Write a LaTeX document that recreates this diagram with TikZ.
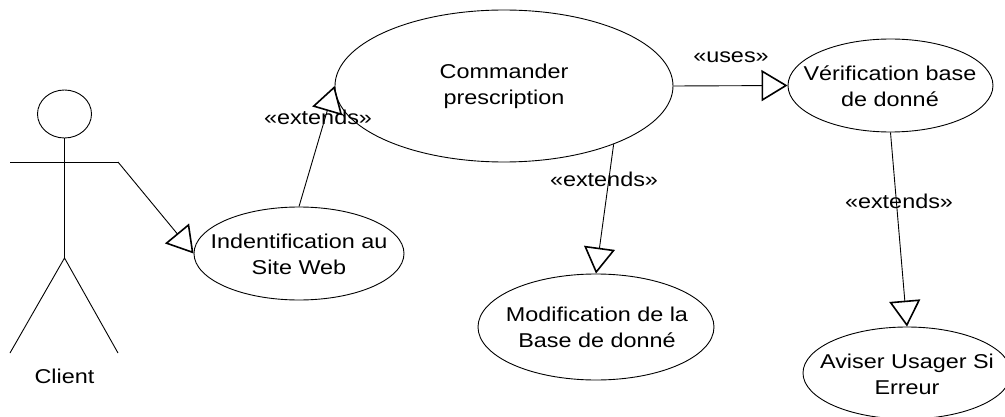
\documentclass[tikz,border=0pt]{standalone}
\usepackage{fontspec}
\setmainfont[FakeStretch=1.17]{Liberation Sans}
\usetikzlibrary{arrows.meta,shapes.geometric}
\tikzset{
  usecase/.style={draw=black,ellipse,line width=0.9pt,inner sep=0pt},
  lbl/.style={inner sep=0pt,align=center,font=\fontsize{20}{26}\selectfont,text=black},
  stick/.style={draw=black,line width=0.9pt},
  gen/.style={draw=black,line width=0.9pt,-{Triangle[open,length=26pt,width=31pt,line width=1.6pt]}}
}
\begin{document}
\begin{tikzpicture}[x=1pt,y=-1pt]
\useasboundingbox (0,0) rectangle (1005,417);
\clip (0,0) rectangle (1005,417);
% use cases
\node[usecase,minimum width=338pt,minimum height=152pt] (cmd) at (504,86) {};
\node[lbl] (cmdt) at (504,86.5) {Commander\\prescription};
\node[usecase,minimum width=210pt,minimum height=93pt] (ind) at (299,253.5) {};
\node[lbl] (indt) at (299,254) {Indentification au\\Site Web};
\node[usecase,minimum width=205pt,minimum height=93pt] (ver) at (890.5,85.5) {};
\node[lbl] (vert) at (890,86) {Vérification base\\de donné};
\node[usecase,minimum width=236pt,minimum height=106pt] (mod) at (596,327) {};
\node[lbl] (modt) at (597,327.5) {Modification de la\\Base de donné};
\node[usecase,minimum width=208pt,minimum height=92pt] (avi) at (907,373) {};
\node[lbl] (avit) at (907,374) {Aviser Usager Si\\Erreur};
% actor
\node[draw=black,ellipse,line width=0.9pt,minimum width=54pt,minimum height=48pt,inner sep=0pt] (head) at (64.5,114) {};
\coordinate (crotch) at (64.5,258);
\coordinate (handL) at (10,162);
\coordinate (handR) at (118,162);
\coordinate (footL) at (10,353);
\coordinate (footR) at (118,353);
\draw[stick] (head.south) -- (crotch);
\draw[stick] (handL) -- (handR);
\draw[stick] (footL) -- (crotch) -- (footR);
\node[lbl] (client) at (64.5,376) {Client};
% connectors
\draw[gen] (handR) -- (ind.west);
\draw[gen] (ind.north) -- (cmd.west);
\draw[gen] (cmd.east) -- (ver.west);
\draw[gen] (cmd.-28) -- (mod.north);
\draw[gen] (ver.south) -- (avi.north);
% labels
\node[lbl] (l1) at (318,117) {«extends»};
\node[lbl] (l2) at (731,57) {«uses»};
\node[lbl] (l3) at (604,179) {«extends»};
\node[lbl] (l4) at (899,201) {«extends»};
\end{tikzpicture}
\end{document}
